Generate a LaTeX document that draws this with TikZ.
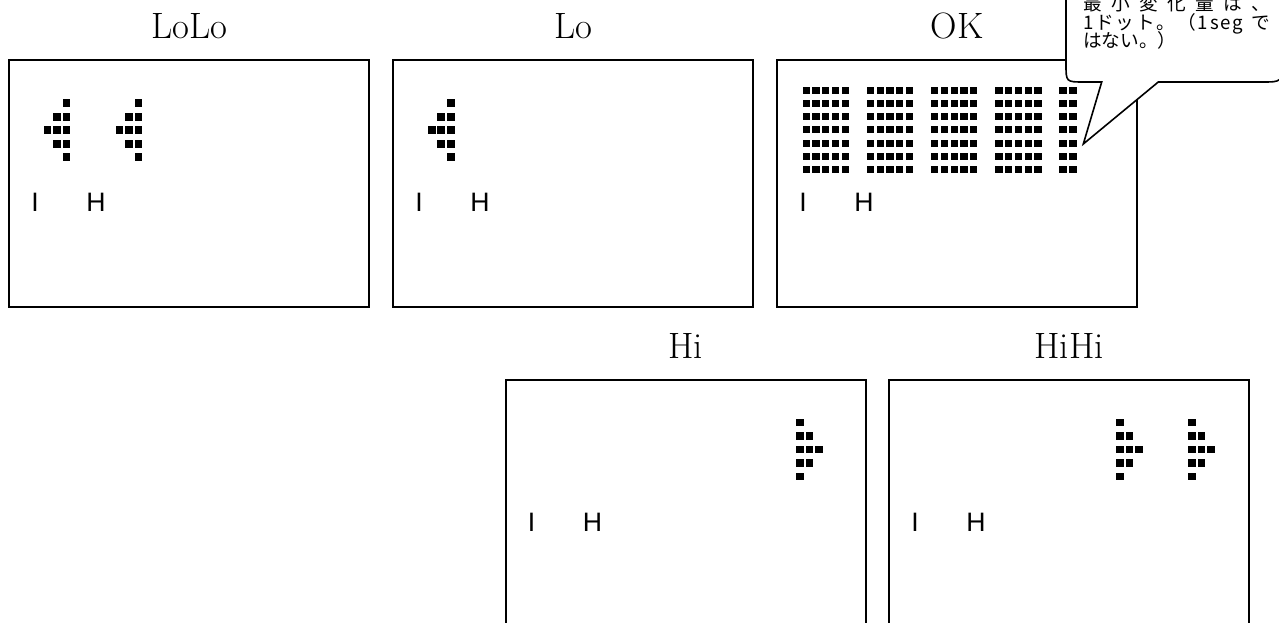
\documentclass[tikz,border=0pt]{standalone}
\usepackage{fontspec}
\newfontfamily\gothfont{Liberation Sans}
\newfontfamily\cjkfont{Noto Sans CJK JP}

\tikzset{
    screen/.style={draw, line width=1.5pt, minimum width=270pt,
        minimum height=185.25pt, inner sep=0pt, outer sep=0pt},
    title/.style={anchor=base, inner sep=0pt, font=\fontsize{27.5}{30}\selectfont},
    lbl/.style={anchor=base, inner sep=0pt, font=\gothfont\fontsize{20}{24}\selectfont},
    bubble/.style={draw, fill=white, line width=1.2pt, line join=miter},
    note/.style={anchor=base west, inner sep=0pt,
        font=\cjkfont\fontsize{14}{14}\selectfont},
    pics/loarrow/.style={code={
        \foreach \c/\r in {2/0,1/1,2/1,0/2,1/2,2/2,1/3,2/3,2/4}
            \fill (9.5*\c-3.8,13.5*\r-3.8) rectangle ++(7.6,7.6);
    }},
    pics/hiarrow/.style={code={
        \foreach \c/\r in {0/0,0/1,1/1,0/2,1/2,2/2,0/3,1/3,0/4}
            \fill (9.5*\c-3.8,13.5*\r-3.8) rectangle ++(7.6,7.6);
    }},
}

\begin{document}
\begin{tikzpicture}[x=0.75pt, y=-0.75pt]
    \useasboundingbox (0,0) rectangle (1279,623);
    \clip (0,0) rectangle (1279,623);

    \foreach \n/\x/\y/\t in {lolo/189/183.5/LoLo, lo/573/183.5/Lo, ok/957/183.5/OK,
                             hi/685.5/503.5/Hi, hihi/1069/503.5/HiHi} {
        \node[screen] (\n) at (\x,\y) {};
        \node[title] (\n-title) at ([yshift=15.75pt]\n.north) {\t};
        \node[lbl] (\n-i) at ([xshift=19.5pt, yshift=-114pt]\n.north west) {I};
        \node[lbl] (\n-h) at ([xshift=65.25pt, yshift=-114pt]\n.north west) {H};
    }

    \pic at (47.3,103.3) {loarrow};
    \pic at (119.3,103.3) {loarrow};
    \pic at (431.7,103.3) {loarrow};
    \pic at (800,422.5) {hiarrow};
    \pic at (1120,422.5) {hiarrow};
    \pic at (1192,422.5) {hiarrow};

    \foreach \b/\m in {0/4,1/4,2/4,3/4,4/1}
        \foreach \c in {0,...,\m}
            \foreach \r in {0,...,6}
                \fill (806.3+64.2*\b+9.75*\c-3.65, 90.7+13.1*\r-3.5) rectangle ++(7.3,7);

    \coordinate (tip) at (1083.3,144);
    \draw[bubble] (1101.7,82) -- (tip) -- (1158.3,82) -- (1262,82)
        .. controls (1282,82) .. (1282,62) -- (1282,-30) -- (1066,-30)
        -- (1066,64) .. controls (1066,82) .. (1084,82) -- cycle;
    \node[note] (memo-1) at (1083,11) {\makebox[140pt][s]{最\hfill 小\hfill 変\hfill 化\hfill 量\hfill は\hfill 、}};
    \node[note] (memo-2) at (1083,30) {\makebox[140pt][s]{1\hfill ド\hfill ッ\hfill ト\hfill 。\hfill （\hfill 1\hfill s\hfill e\hfill g\hfill\ \hfill で}};
    \node[note] (memo-3) at (1083,48) {はない。）};
\end{tikzpicture}
\end{document}
